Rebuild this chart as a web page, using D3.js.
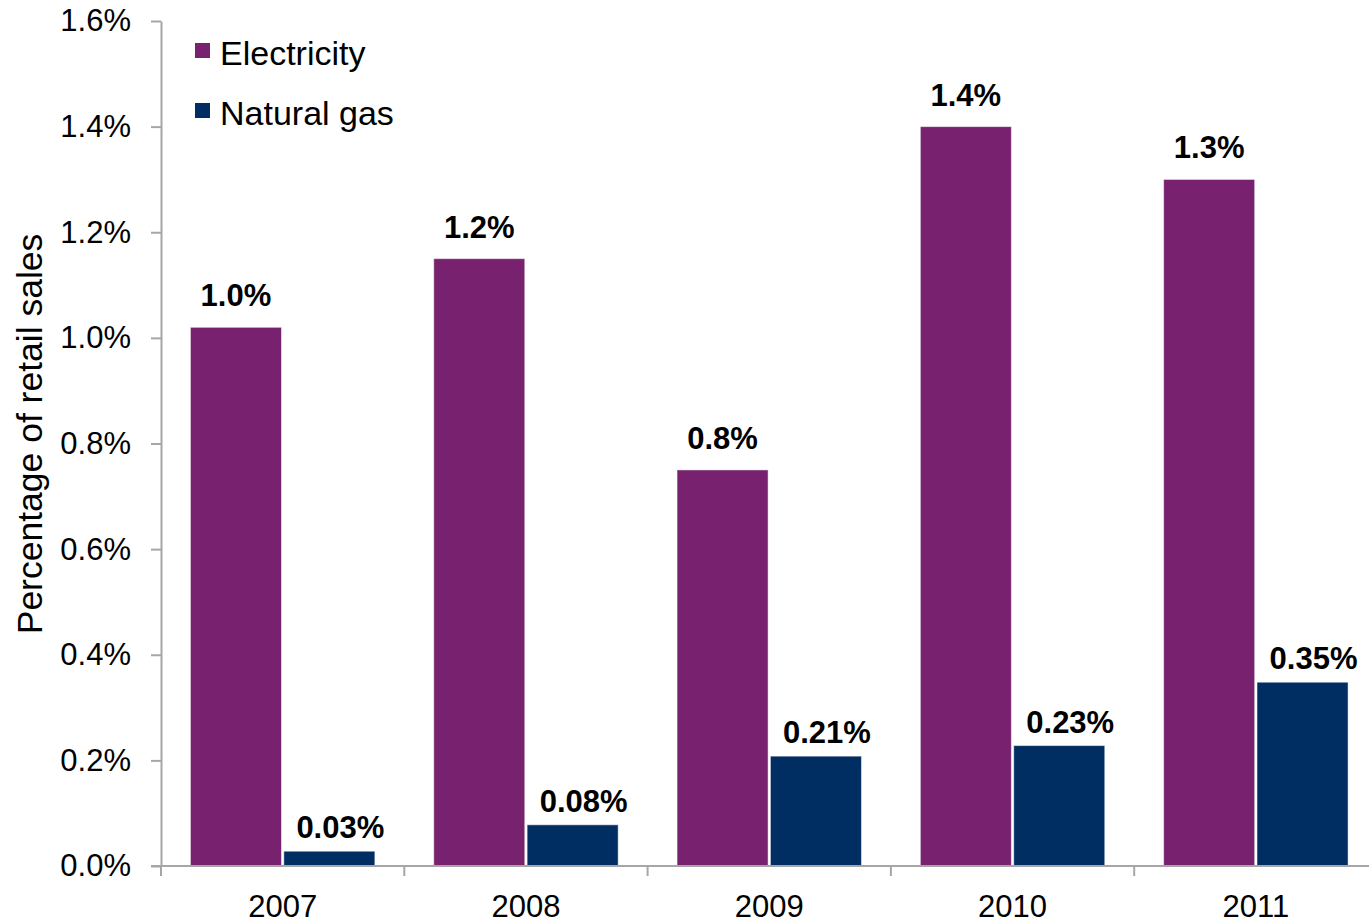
<!DOCTYPE html>
<html>
<head>
<meta charset="utf-8">
<script src="https://cdn.jsdelivr.net/npm/d3@7"></script>
<style>
  body { margin: 0; background: #fff; }
  text { font-family: "Liberation Sans", Arial, sans-serif; fill: #000; }
  .axis path, .axis line { stroke: #a6a6a6; stroke-width: 2; }
</style>
</head>
<body>
<div id="chart"></div>
<script>
// values (percent of retail sales)
var years = ["2007", "2008", "2009", "2010", "2011"];
var series = ["Electricity", "Natural gas"];
var electricity = [1.02, 1.15, 0.75, 1.40, 1.30];
var naturalGas = [0.028, 0.078, 0.208, 0.228, 0.348];
var elecLabels = ["1.0%", "1.2%", "0.8%", "1.4%", "1.3%"];
var gasLabels = ["0.03%", "0.08%", "0.21%", "0.23%", "0.35%"];
var yTicks = [0, 0.2, 0.4, 0.6, 0.8, 1.0, 1.2, 1.4, 1.6];

var width = 1369, height = 922;
var color = {"Electricity": "#77216f", "Natural gas": "#002d62"};

var svg = d3.select("#chart")
  .append("svg")
  .attr("width", width)
  .attr("height", height);

var y = d3.scaleLinear().domain([0, 1.6]).range([866, 21]);

var x0 = d3.scaleBand()
  .domain(years)
  .range([161, 1377.5])
  .paddingInner(0.242)
  .paddingOuter(0.121);

var x1 = d3.scaleBand()
  .domain(series)
  .range([0, x0.bandwidth()])
  .paddingInner(0.025);

var rows = years.map(function(yr, i) {
  return {year: yr, values: [
    {key: "Electricity", value: electricity[i], label: elecLabels[i]},
    {key: "Natural gas", value: naturalGas[i], label: gasLabels[i]}
  ]};
});

// y axis
svg.append("g")
  .attr("class", "axis")
  .attr("transform", "translate(161,0)")
  .call(d3.axisLeft(y).tickValues(yTicks)
    .tickFormat(function(d) { return d.toFixed(1) + "%"; })
    .tickSize(10).tickPadding(20).tickSizeOuter(0))
  .call(function(g) {
    g.selectAll("text").style("font-size", "31px").attr("fill", "#000");
  });

// bars
var groups = svg.append("g").selectAll("g")
  .data(rows)
  .enter().append("g")
  .attr("transform", function(d) { return "translate(" + x0(d.year) + ",0)"; });

groups.selectAll("rect")
  .data(function(d) { return d.values; })
  .enter().append("rect")
  .attr("x", function(d) { return x1(d.key); })
  .attr("y", function(d) { return y(d.value); })
  .attr("width", x1.bandwidth())
  .attr("height", function(d) { return y(0) - y(d.value); })
  .attr("fill", function(d) { return color[d.key]; })
  .attr("stroke", "#ffffff")
  .attr("stroke-opacity", 0.5)
  .attr("stroke-width", 1);

// data labels: gas labels sit a bit right of the bar centre
groups.selectAll("text")
  .data(function(d) { return d.values; })
  .enter().append("text")
  .attr("x", function(d) { return x1(d.key) + x1.bandwidth() / 2 + (d.key === "Natural gas" ? 11 : 0); })
  .attr("y", function(d) { return y(d.value) - (d.key === "Natural gas" ? 13 : 21); })
  .attr("text-anchor", "middle")
  .style("font-size", "31px")
  .style("font-weight", "bold")
  .text(function(d) { return d.label; });

// x axis
var xa = svg.append("g").attr("class", "axis");
xa.append("line")
  .attr("x1", 151).attr("x2", width)
  .attr("y1", y(0)).attr("y2", y(0));
xa.selectAll(".tick")
  .data(d3.range(years.length + 1))
  .enter().append("line")
  .attr("x1", function(i) { return 161 + i * x0.step(); })
  .attr("x2", function(i) { return 161 + i * x0.step(); })
  .attr("y1", y(0)).attr("y2", y(0) + 10);
xa.selectAll("text")
  .data(years)
  .enter().append("text")
  .attr("x", function(d) { return x0(d) + x0.bandwidth() / 2; })
  .attr("y", 917)
  .attr("text-anchor", "middle")
  .style("font-size", "31px")
  .text(function(d) { return d; });

// y title
svg.append("text")
  .attr("transform", "translate(42,434) rotate(-90)")
  .attr("text-anchor", "middle")
  .style("font-size", "35.5px")
  .text("Percentage of retail sales");

// legend
var legend = svg.append("g").selectAll("g")
  .data(series)
  .enter().append("g")
  .attr("transform", function(d, i) { return "translate(195," + (43 + i * 60) + ")"; });
legend.append("rect")
  .attr("width", 15).attr("height", 15)
  .attr("fill", function(d) { return color[d]; });
legend.append("text")
  .attr("x", 25).attr("y", 22)
  .style("font-size", "34px")
  .text(function(d) { return d; });
</script>
</body>
</html>
